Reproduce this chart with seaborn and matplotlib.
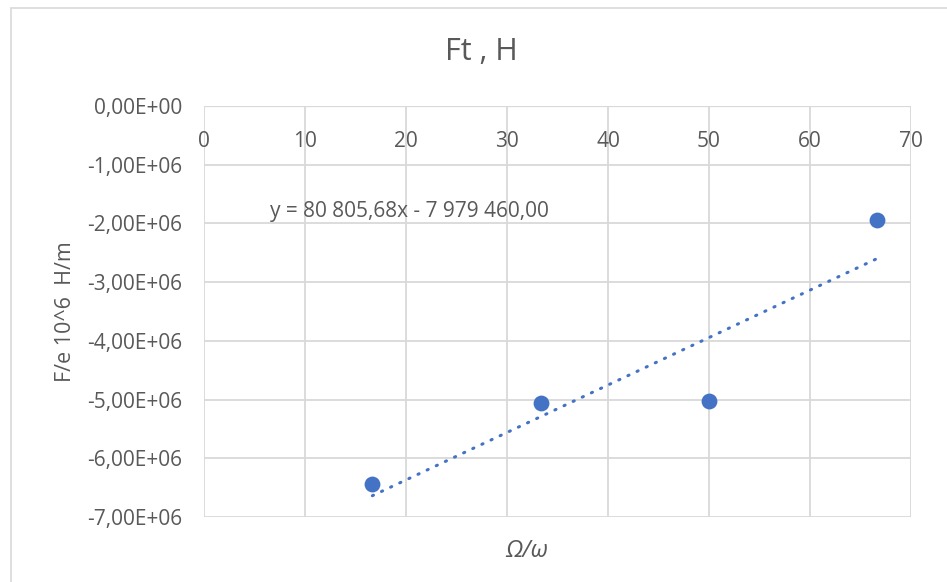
import numpy as np
import pandas as pd
import matplotlib
matplotlib.use("Agg")
import matplotlib.pyplot as plt
import seaborn as sns
from matplotlib.ticker import FuncFormatter

# data
omega_ratio = [16.67, 33.33, 50.0, 66.67]
force = [-6.43e6, -5.06e6, -5.03e6, -1.95e6]
x_ticks = [0, 10, 20, 30, 40, 50, 60, 70]
y_ticks = [0, -1e6, -2e6, -3e6, -4e6, -5e6, -6e6, -7e6]
equation = "y = 80 805,68x - 7 979 460,00"

df = pd.DataFrame({"x": omega_ratio, "y": force})

sns.set_theme(style="white")
plt.rcParams['font.family'] = ['Open Sans', 'DejaVu Sans']

text_col = "#595959"
grid_col = "#d9d9d9"
blue = "#4472C4"

fig = plt.figure(figsize=(9.47, 5.82), dpi=100)
ax = fig.add_axes([0.2154, 0.1117, 0.7466, 0.7062])

# linear trend over the data range
k, b = np.polyfit(df["x"], df["y"], 1)
trend = pd.DataFrame({"x": [df["x"].min(), df["x"].max()]})
trend["y"] = k * trend["x"] + b
sns.lineplot(data=trend, x="x", y="y", ax=ax, color=blue, lw=2.2,
             linestyle=(0, (0.4, 2.9)), dash_capstyle="round", zorder=2)

sns.scatterplot(data=df, x="x", y="y", ax=ax, color=blue, s=130,
                edgecolor=blue, linewidth=0, zorder=3)

ax.set_xlim(0, 70)
ax.set_ylim(-7e6, 0)
ax.set_xticks(x_ticks)
ax.set_yticks(y_ticks)

fmt = lambda v, p: ("%.2E" % v).replace(".", ",")
ax.yaxis.set_major_formatter(FuncFormatter(fmt))

ax.grid(True, color=grid_col, lw=1.3)
ax.set_axisbelow(True)
for s in ax.spines.values():
    s.set_visible(False)
ax.axhline(0, color=grid_col, lw=1.6, zorder=1)

ax.tick_params(axis="x", top=True, bottom=False, labeltop=True,
               labelbottom=False, length=0, pad=-33, labelsize=15,
               labelcolor=text_col)
ax.tick_params(axis="y", length=0, pad=16, labelsize=15, labelcolor=text_col)

ax.text(6.5, -1.8e6, equation, fontsize=15, color=text_col,
        va="center", ha="left")

ax.set_xlabel("")
ax.set_ylabel("F/e 10^6  H/m", fontsize=15.5, color=text_col, labelpad=8)
fig.text(0.556, 0.053, "Ω/ω", fontsize=17, fontstyle="italic",
         color=text_col, ha="center", va="center")
fig.text(0.508, 0.91, "Ft , H", fontsize=22, color=text_col,
         ha="center", va="center")

# chart area border
fig.add_artist(plt.Line2D([0.0116, 0.0116], [0, 0.986], color=grid_col,
                          lw=1.2, transform=fig.transFigure))
fig.add_artist(plt.Line2D([0.0116, 1], [0.986, 0.986], color=grid_col,
                          lw=1.2, transform=fig.transFigure))

fig.savefig("out.png", dpi=100)
